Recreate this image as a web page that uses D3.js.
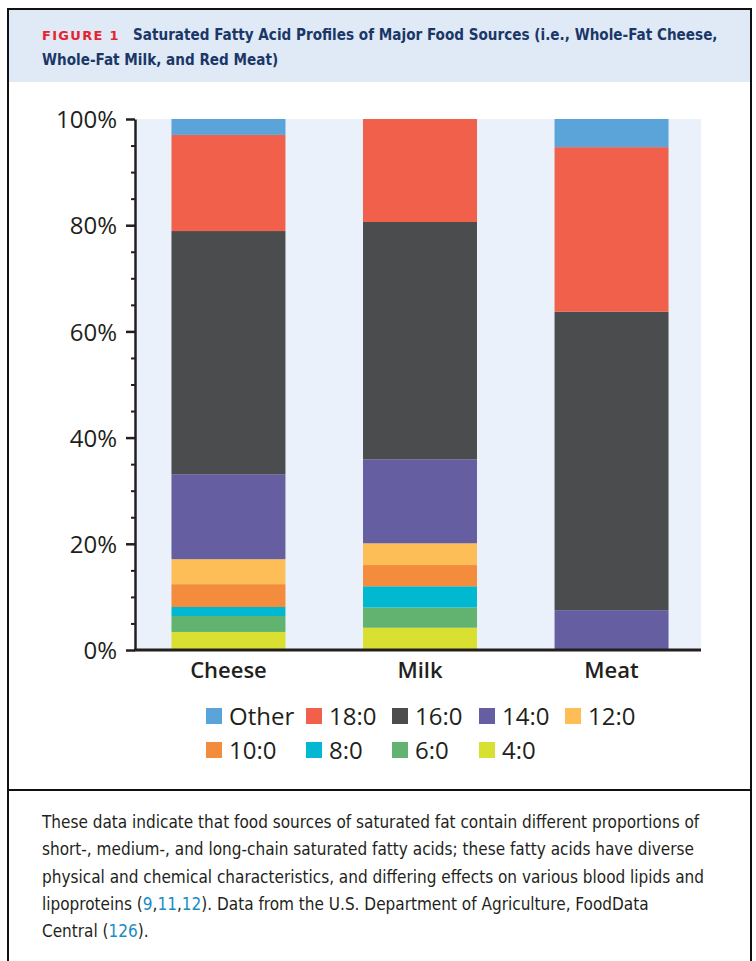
<!DOCTYPE html>
<html><head><meta charset="utf-8">
<script src="https://cdn.jsdelivr.net/npm/d3@7"></script>
<style>
html,body{margin:0;padding:0;background:#fff;}
svg{display:block;}
</style></head>
<body>
<svg id="chart" width="756" height="961"></svg>
<script>
const categories = ["Cheese", "Milk", "Meat"];
const seriesKeys = ["4:0", "6:0", "8:0", "10:0", "12:0", "14:0", "16:0", "18:0", "Other"];
const legendOrder = ["Other", "18:0", "16:0", "14:0", "12:0", "10:0", "8:0", "6:0", "4:0"];
const cheeseValues = [3.4, 3.0, 1.7, 4.3, 4.7, 16.0, 45.8, 18.1, 3.0];
const milkValues   = [4.2, 3.8, 4.0, 4.0, 4.1, 15.8, 44.7, 19.4, 0.0];
const meatValues   = [0, 0, 0, 0, 0, 7.5, 56.2, 31.0, 5.3];
const yTicks = [0, 20, 40, 60, 80, 100];
const colors = {"Other":"#5ba4da","18:0":"#f0604a","16:0":"#4b4c4e","14:0":"#655ea0","12:0":"#fdbe57","10:0":"#f48c3d","8:0":"#00b8cf","6:0":"#61b36f","4:0":"#dae032"};

const rows = categories.map((c, i) => {
  const vals = [cheeseValues, milkValues, meatValues][i];
  const o = {cat: c};
  seriesKeys.forEach((k, j) => o[k] = vals[j]);
  return o;
});

const svg = d3.select("#chart");
const ink = "#231f20";

// horizontally squeeze a group of text lines so the first one spans the target width
function squeeze(texts, x0, target) {
  const w = texts[0].node().getComputedTextLength();
  const k = target / w;
  texts.forEach(t => t.attr("transform", `translate(${x0},0) scale(${k},1) translate(${-x0},0)`));
}

// Frame & header
svg.append("rect").attr("x", 9).attr("y", 10).attr("width", 741).attr("height", 72).attr("fill", "#dfeaf6");
svg.append("path").attr("d", "M8,975 V9 H751 V975").attr("fill", "none").attr("stroke", "#111").attr("stroke-width", 2);
svg.append("line").attr("x1", 8).attr("x2", 751).attr("y1", 790).attr("y2", 790).attr("stroke", "#111").attr("stroke-width", 2);

const titleFont = "'DejaVu Sans Condensed','Liberation Sans Narrow',sans-serif";
svg.append("text").attr("x", 42).attr("y", 40).attr("font-family", "'DejaVu Sans',sans-serif").attr("font-weight", "bold")
  .attr("font-size", 13).attr("fill", "#e5242c").attr("letter-spacing", 1.3).text("FIGURE 1");
const t1 = svg.append("text").attr("x", 133).attr("y", 40).attr("font-family", titleFont).attr("font-weight", "bold").attr("font-size", 16.5)
  .attr("fill", "#1b3767").text("Saturated Fatty Acid Profiles of Major Food Sources (i.e., Whole-Fat Cheese,");
squeeze([t1], 133, 585);
const t2 = svg.append("text").attr("x", 42).attr("y", 65).attr("font-family", titleFont).attr("font-weight", "bold").attr("font-size", 16.5)
  .attr("fill", "#1b3767").text("Whole-Fat Milk, and Red Meat)");
t2.attr("transform", t1.attr("transform").replace(/133/g, "42"));

// Scales
const x = d3.scaleBand().domain(categories).range([137, 703]).paddingInner(0.405).paddingOuter(0.18);
const y = d3.scaleLinear().domain([0, 100]).range([650, 119]);

svg.append("rect").attr("x", 137).attr("y", y(100)).attr("width", 701 - 137).attr("height", y(0) - y(100)).attr("fill", "#eaf1fa");

const stack = d3.stack().keys(seriesKeys)(rows);
svg.append("g").selectAll("g").data(stack).join("g").attr("fill", d => colors[d.key])
  .selectAll("rect").data(d => d).join("rect")
  .attr("x", d => x(d.data.cat)).attr("width", x.bandwidth())
  .attr("y", d => y(d[1])).attr("height", d => Math.max(0, y(d[0]) - y(d[1])));

// Y axis
const labelFont = "'Open Sans','Noto Sans',sans-serif";
const minor = d3.range(0, 101, 5).filter(v => v % 20 !== 0);
const yMinor = svg.append("g").attr("transform", "translate(135,0)")
  .call(d3.axisLeft(y).tickValues(minor).tickSize(4).tickFormat(""));
yMinor.select(".domain").remove();
yMinor.selectAll("line").attr("stroke", ink).attr("stroke-width", 2);
const yAxis = svg.append("g").attr("transform", "translate(135,0)")
  .call(d3.axisLeft(y).tickValues(yTicks).tickSize(9).tickSizeOuter(0).tickPadding(9).tickFormat(d => d + "%"));
yAxis.select(".domain").attr("stroke", ink).attr("stroke-width", 2.5);
yAxis.selectAll(".tick line").attr("stroke", ink).attr("stroke-width", 2.5);
yAxis.selectAll("text").attr("font-family", labelFont).attr("font-size", 24).attr("font-weight", 500).attr("fill", ink).attr("dy", "0.36em");

// X axis
const xAxis = svg.append("g").attr("transform", "translate(0,650)")
  .call(d3.axisBottom(x).tickSize(0).tickPadding(8));
xAxis.select(".domain").attr("d", "M134,0H701").attr("stroke", ink).attr("stroke-width", 3);
xAxis.selectAll("text").attr("font-family", labelFont).attr("font-size", 22).attr("font-weight", 600).attr("fill", ink).attr("dy", "0.9em");

// Legend
const legendPos = [[206,708],[306,708],[392,708],[479,708],[565,708],[206,742],[306,742],[392,742],[479,742]];
const lg = svg.append("g").selectAll("g").data(legendOrder).join("g")
  .attr("transform", (d, i) => `translate(${legendPos[i][0]},${legendPos[i][1]})`);
lg.append("rect").attr("width", 16).attr("height", 16).attr("fill", d => colors[d]);
lg.append("text").attr("x", 23).attr("y", 8).attr("dy", "0.36em").attr("font-family", labelFont)
  .attr("font-size", 24).attr("font-weight", 500).attr("fill", ink).text(d => d);

// Caption
const capFont = "'DejaVu Sans Condensed','Liberation Sans Narrow',sans-serif";
const link = "#1a8bc6";
const capLines = [
  [["These data indicate that food sources of saturated fat contain different proportions of", ink]],
  [["short-, medium-, and long-chain saturated fatty acids; these fatty acids have diverse", ink]],
  [["physical and chemical characteristics, and differing effects on various blood lipids and", ink]],
  [["lipoproteins (", ink], ["9", link], [",", ink], ["11", link], [",", ink], ["12", link], ["). Data from the U.S. Department of Agriculture, FoodData", ink]],
  [["Central (", ink], ["126", link], [").", ink]]
];
const capTexts = capLines.map((ln, i) => {
  const t = svg.append("text").attr("x", 42).attr("y", 828 + i * 27.3).attr("font-family", capFont).attr("font-size", 17);
  ln.forEach(([s, c]) => t.append("tspan").attr("fill", c).text(s));
  return t;
});
squeeze(capTexts, 42, 658);
</script>
</body></html>
